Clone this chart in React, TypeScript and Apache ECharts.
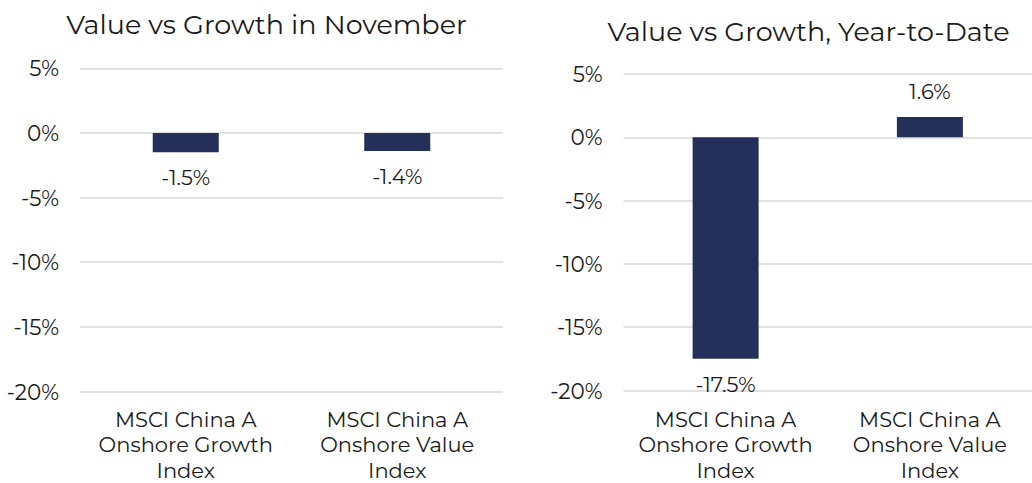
import React, { useEffect, useRef } from "react";
import * as echarts from "echarts";

const categories = [
  "MSCI China A\nOnshore Growth\nIndex",
  "MSCI China A\nOnshore Value\nIndex",
];
const novemberValues = [-1.5, -1.4];
const ytdValues = [-17.5, 1.6];
const titles = ["Value vs Growth in November", "Value vs Growth, Year-to-Date"];

const FONT = "Montserrat, 'Noto Sans', sans-serif";
const TEXT = "#1a1a1a";
const BAR = "#243059";

export default function App() {
  const ref = useRef<HTMLDivElement>(null);
  useEffect(() => {
    if (!ref.current) return;
    const chart = echarts.init(ref.current, undefined, { renderer: "svg" });
    const yAxisCommon = {
      type: "value" as const,
      min: -20,
      max: 5,
      interval: 5,
      axisLine: { show: false },
      axisTick: { show: false },
      splitLine: { lineStyle: { color: "#d9d9d9", width: 1.5 } },
      axisLabel: {
        formatter: (v: number) => `${v}%`,
        fontFamily: FONT,
        fontSize: 21.5,
        color: TEXT,
        margin: 21,
      },
    };
    const xAxisCommon = {
      type: "category" as const,
      data: categories,
      axisLine: { show: false },
      axisTick: { show: false },
      axisLabel: {
        fontFamily: FONT,
        fontSize: 21,
        color: TEXT,
        lineHeight: 25.5,
        interval: 0,
      },
    };
    const labelCommon = {
      show: true,
      position: "outside" as any,
      distance: 15,
      fontFamily: FONT,
      fontSize: 21,
      color: TEXT,
      formatter: (p: any) => `${p.value.toFixed(1)}%`,
    };
    chart.setOption({
      animation: false,
      title: [
        {
          text: titles[0],
          left: 261.5,
          top: 6,
          textAlign: "center",
          textStyle: { fontFamily: FONT, fontSize: 27, fontWeight: "normal", color: TEXT },
        },
        {
          text: titles[1],
          left: 803.5,
          top: 12.5,
          textAlign: "center",
          textStyle: { fontFamily: FONT, fontSize: 27, fontWeight: "normal", color: TEXT },
        },
      ],
      grid: [
        { left: 80, top: 68.3, width: 423, height: 324 },
        { left: 623.5, top: 74, width: 422, height: 318.7 },
      ],
      xAxis: [
        { ...xAxisCommon, gridIndex: 0, axisLabel: { ...xAxisCommon.axisLabel, margin: 15 } },
        { ...xAxisCommon, gridIndex: 1, axisLabel: { ...xAxisCommon.axisLabel, margin: 16 } },
      ],
      yAxis: [
        { ...yAxisCommon, gridIndex: 0 },
        { ...yAxisCommon, gridIndex: 1 },
      ],
      series: [
        {
          type: "bar",
          xAxisIndex: 0,
          yAxisIndex: 0,
          data: novemberValues,
          barWidth: 66,
          itemStyle: { color: BAR },
          label: labelCommon,
        },
        {
          type: "bar",
          xAxisIndex: 1,
          yAxisIndex: 1,
          data: ytdValues,
          barWidth: 66,
          itemStyle: { color: BAR },
          label: labelCommon,
        },
      ],
    });
    return () => chart.dispose();
  }, []);
  return (
    <div
      ref={ref}
      style={{ position: "absolute", left: 0, top: 0, width: 1032, height: 483, background: "#fff" }}
    />
  );
}
